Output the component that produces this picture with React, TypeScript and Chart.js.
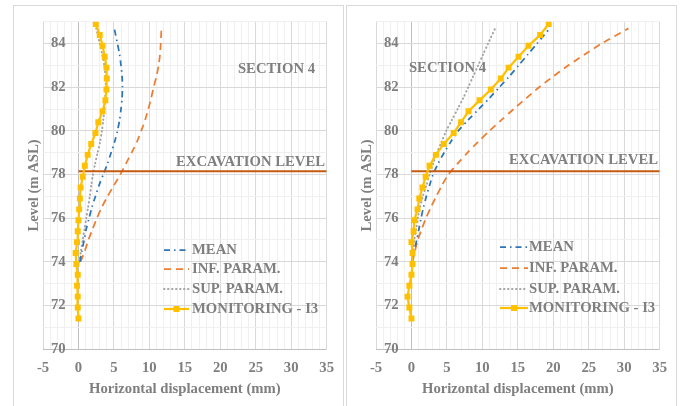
import React, { useEffect, useRef } from "react";
import { Chart, registerables } from "chart.js";
Chart.register(...registerables);

// ---------- DATA ----------
const MON_LEVELS = [71.4, 71.9, 72.4, 72.9, 73.4, 73.9, 74.4, 74.9, 75.4, 75.9, 76.4, 76.9, 77.4, 77.9, 78.4, 78.9, 79.4, 79.9, 80.4, 80.9, 81.4, 81.9, 82.4, 82.9, 83.4, 83.9, 84.4, 84.9];
const LEFT_MON = [0.0, -0.1, -0.1, -0.2, -0.1, -0.3, -0.4, -0.2, -0.1, 0.0, 0.1, 0.2, 0.3, 0.6, 0.9, 1.3, 1.8, 2.4, 2.8, 3.4, 3.8, 3.95, 4.0, 3.95, 3.7, 3.4, 3.0, 2.45];
const RIGHT_MON = [0.0, -0.3, -0.55, -0.3, 0.0, 0.15, 0.15, 0.0, 0.3, 0.4, 0.85, 1.1, 1.55, 2.0, 2.55, 3.45, 4.55, 5.95, 7.0, 8.05, 9.6, 11.2, 12.6, 13.7, 15.1, 16.5, 18.15, 19.35];

const MODEL_LEVELS = [74.0, 74.5, 75.0, 75.5, 76.0, 76.5, 77.0, 77.5, 78.0, 78.5, 79.0, 79.5, 80.0, 80.5, 81.0, 81.5, 82.0, 82.5, 83.0, 83.5, 84.0, 84.7];
const LEFT_MEAN = [0.2, 0.5, 0.8, 1.1, 1.5, 1.9, 2.4, 2.9, 3.5, 4.1, 4.6, 5.1, 5.5, 5.8, 6.0, 6.15, 6.2, 6.15, 6.0, 5.8, 5.5, 5.05];
const LEFT_INF = [0.3, 0.9, 1.4, 2.0, 2.6, 3.3, 4.1, 5.0, 5.9, 6.7, 7.5, 8.25, 8.85, 9.4, 9.85, 10.25, 10.6, 11.0, 11.3, 11.5, 11.6, 11.7];
const LEFT_SUP = [0.1, 0.35, 0.6, 0.85, 1.1, 1.35, 1.6, 1.8, 2.05, 2.35, 2.7, 3.05, 3.3, 3.5, 3.65, 3.75, 3.85, 3.8, 3.65, 3.35, 3.0, 2.5];
const RIGHT_MEAN = [0.1, 0.4, 0.75, 1.05, 1.35, 1.7, 2.1, 2.55, 3.05, 3.75, 4.6, 5.55, 6.6, 8.0, 9.5, 11.0, 12.4, 13.8, 15.1, 16.4, 17.7, 19.5];
const RIGHT_INF = [0.15, 0.5, 0.9, 1.45, 2.05, 2.75, 3.5, 4.3, 5.2, 6.5, 7.9, 9.4, 11.0, 12.7, 14.4, 16.2, 18.0, 20.0, 22.1, 24.4, 26.8, 30.6];
const RIGHT_SUP = [0.05, 0.2, 0.4, 0.65, 0.9, 1.2, 1.6, 2.1, 2.55, 3.05, 3.6, 4.25, 4.9, 5.7, 6.5, 7.3, 8.0, 8.7, 9.4, 10.1, 10.8, 11.8];

const EXCAVATION_LEVEL = 78.15;
const EXCAVATION_X = [0, 35];
const X_LABELS = [-5, 0, 5, 10, 15, 20, 25, 30, 35];
const Y_LABELS = [70, 72, 74, 76, 78, 80, 82, 84];
const SERIES_NAMES = ["MEAN", "INF. PARAM.", "SUP. PARAM.", "MONITORING - I3"];
const SECTION_LABEL = "SECTION 4";
const EXCAVATION_LABEL = "EXCAVATION LEVEL";
const X_TITLE = "Horizontal displacement (mm)";
const Y_TITLE = "Level (m ASL)";

// ---------- STYLE ----------
const TEXT = "#7f7f7f";
const FONT_FAMILY = '"Liberation Serif", "Times New Roman", serif';
const FONT_SIZE = 14.7;
const C_MEAN = "#2E75B6";
const C_INF = "#ED7D31";
const C_SUP = "#A5A5A5";
const C_MON = "#FFC000";
const C_EXC = "#C55A11";

const zip = (xs: number[], ys: number[]) => xs.map((x, i) => ({ x, y: ys[i] }));

type Layout = {
  secX: number; secY: number; excX: number; excY: number;
  legX1: number; legX2: number; legTextX: number; legY: number[];
};

const LEFT_LAYOUT: Layout = { secX: 263.5, secY: 64, excX: 312, excY: 157, legX1: 151, legX2: 176, legTextX: 179, legY: [245, 264, 284, 304] };
const RIGHT_LAYOUT: Layout = { secX: 101.5, secY: 63, excX: 312, excY: 155, legX1: 154, legX2: 182, legTextX: 183, legY: [242, 263, 284, 303] };

function Panel({ left, mon, mean, inf, sup, layout }: { left: number; mon: number[]; mean: number[]; inf: number[]; sup: number[]; layout: Layout }) {
  const ref = useRef<HTMLCanvasElement>(null);
  useEffect(() => {
    const font = { family: FONT_FAMILY, size: FONT_SIZE, weight: "bold" as const };
    const overlay = {
      id: "overlay",
      afterDatasetsDraw(chart: any) {
        const ctx = chart.ctx as CanvasRenderingContext2D;
        const L = layout;
        ctx.save();
        ctx.font = `bold ${FONT_SIZE}px ${FONT_FAMILY}`;
        ctx.fillStyle = TEXT;
        ctx.textBaseline = "middle";
        ctx.textAlign = "center";
        ctx.fillText(SECTION_LABEL, L.secX, L.secY);
        ctx.textAlign = "right";
        ctx.fillText(EXCAVATION_LABEL, L.excX, L.excY);
        chart.data.datasets.slice(0, 4).forEach((ds: any, i: number) => {
          const y = L.legY[i];
          ctx.beginPath();
          ctx.setLineDash(ds.borderDash || []);
          ctx.lineCap = ds.borderCapStyle || "butt";
          ctx.strokeStyle = ds.borderColor;
          ctx.lineWidth = ds.borderWidth;
          ctx.moveTo(L.legX1, y);
          ctx.lineTo(L.legX2, y);
          ctx.stroke();
          ctx.setLineDash([]);
          if (i === 3) {
            const m = (L.legX1 + L.legX2) / 2;
            ctx.fillStyle = C_MON;
            ctx.fillRect(m - 3, y - 3, 6, 6);
          }
          ctx.fillStyle = TEXT;
          ctx.textAlign = "left";
          ctx.fillText(SERIES_NAMES[i], L.legTextX, y);
        });
        ctx.restore();
      },
    };
    const chart = new Chart(ref.current!, {
      type: "scatter",
      data: {
        datasets: [
          { label: SERIES_NAMES[0], data: zip(mean, MODEL_LEVELS), showLine: true, borderColor: C_MEAN, borderWidth: 1.75, borderDash: [6, 4, 1.5, 4], pointRadius: 0, tension: 0.25, order: 2 },
          { label: SERIES_NAMES[1], data: zip(inf, MODEL_LEVELS), showLine: true, borderColor: C_INF, borderWidth: 1.75, borderDash: [7, 5], pointRadius: 0, tension: 0.25, order: 3 },
          { label: SERIES_NAMES[2], data: zip(sup, MODEL_LEVELS), showLine: true, borderColor: C_SUP, borderWidth: 2, borderDash: [0.5, 3.5], borderCapStyle: "round", pointRadius: 0, tension: 0.25, order: 4 },
          { label: SERIES_NAMES[3], data: zip(mon, MON_LEVELS), showLine: true, borderColor: C_MON, backgroundColor: C_MON, borderWidth: 2.25, pointStyle: "rect", pointRadius: 4.2, pointBorderWidth: 0, tension: 0, order: 0 },
          { label: "excavation", data: EXCAVATION_X.map((x) => ({ x, y: EXCAVATION_LEVEL })), showLine: true, borderColor: C_EXC, borderWidth: 2, pointRadius: 0, order: 1 },
        ] as any,
      },
      options: {
        animation: false,
        responsive: false,
        devicePixelRatio: 1,
        events: [],
        layout: { padding: { left: 12, right: 17, top: 13, bottom: 0 } },
        plugins: { legend: { display: false }, tooltip: { enabled: false } },
        scales: {
          x: {
            type: "linear",
            min: -5,
            max: 35,
            afterFit: (s: any) => { s.height = 57; },
            border: { display: false },
            grid: {
              drawTicks: false,
              lineWidth: 1,
              color: (c: any) => (c.tick.value === 0 ? "#bfbfbf" : c.tick.value % 5 === 0 ? "#d9d9d9" : "#f0f0f0"),
            },
            ticks: {
              stepSize: 1,
              autoSkip: false,
              maxRotation: 0,
              padding: 10,
              color: TEXT,
              font,
              callback: (v: any) => (X_LABELS.includes(Number(v)) ? String(v) : ""),
            },
            title: { display: true, text: X_TITLE, color: TEXT, font, padding: { top: 0, bottom: 8 } },
          },
          y: {
            type: "linear",
            min: 70,
            max: 85,
            afterFit: (s: any) => { s.width = 18; },
            border: { display: false },
            grid: {
              drawTicks: false,
              lineWidth: 1,
              color: (c: any) => (c.tick.value === 70 ? "#bfbfbf" : c.tick.value % 2 === 0 ? "#d9d9d9" : "#f0f0f0"),
            },
            ticks: {
              stepSize: 1,
              autoSkip: false,
              mirror: true,
              crossAlign: "far",
              padding: 8,
              color: TEXT,
              font,
              callback: (v: any) => (Y_LABELS.includes(Number(v)) ? String(v) : ""),
            },
            title: { display: true, text: Y_TITLE, color: TEXT, font, padding: 0 },
          },
        },
      } as any,
      plugins: [overlay],
    });
    return () => chart.destroy();
  }, []);
  return (
    <>
      <div style={{ position: "absolute", left, top: 5, width: 329, height: 420, border: "1px solid #d9d9d9", boxSizing: "content-box" }} />
      <canvas ref={ref} width={331} height={401} style={{ position: "absolute", left, top: 5, width: 331, height: 401 }} />
    </>
  );
}

export default function App() {
  return (
    <div style={{ position: "fixed", left: 0, top: 0, width: 681, height: 406, background: "#fff", overflow: "hidden" }}>
      <Panel left={13} mon={LEFT_MON} mean={LEFT_MEAN} inf={LEFT_INF} sup={LEFT_SUP} layout={LEFT_LAYOUT} />
      <Panel left={346} mon={RIGHT_MON} mean={RIGHT_MEAN} inf={RIGHT_INF} sup={RIGHT_SUP} layout={RIGHT_LAYOUT} />
    </div>
  );
}
